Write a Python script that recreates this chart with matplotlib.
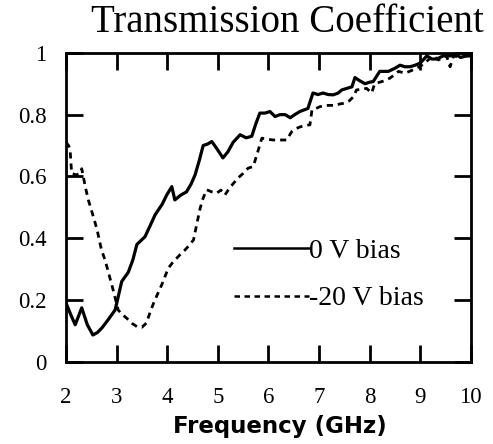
import numpy as np
import matplotlib
matplotlib.use('Agg')
import matplotlib.pyplot as plt
from matplotlib import rc

# values
freq_0v = [2.0, 2.1, 2.18, 2.31, 2.42, 2.53, 2.62, 2.71, 2.83, 2.97,
           3.1, 3.23, 3.32, 3.4, 3.56, 3.66, 3.76, 3.9, 3.99, 4.09,
           4.15, 4.27, 4.38, 4.47, 4.55, 4.63, 4.71, 4.8, 4.88, 4.98,
           5.1, 5.2, 5.3, 5.44, 5.56, 5.67, 5.75, 5.83, 5.93, 6.03,
           6.13, 6.23, 6.33, 6.43, 6.52, 6.62, 6.78, 6.88, 6.98, 7.08,
           7.18, 7.28, 7.38, 7.45, 7.55, 7.65, 7.71, 7.8, 7.91, 8.0,
           8.07, 8.2, 8.28, 8.37, 8.5, 8.6, 8.7, 8.8, 8.9, 9.0,
           9.13, 9.23, 9.33, 9.45, 9.59, 9.7, 9.8, 9.9, 10.0]
trans_0v = [0.19, 0.15, 0.12, 0.175, 0.12, 0.087, 0.095, 0.11, 0.136, 0.168,
            0.26, 0.29, 0.33, 0.38, 0.405, 0.44, 0.476, 0.51, 0.54, 0.567,
            0.524, 0.54, 0.55, 0.575, 0.605, 0.65, 0.70, 0.705, 0.713, 0.69,
            0.66, 0.68, 0.71, 0.735, 0.725, 0.73, 0.77, 0.805, 0.805, 0.81,
            0.794, 0.80, 0.80, 0.79, 0.80, 0.81, 0.82, 0.87, 0.865, 0.87,
            0.865, 0.864, 0.87, 0.88, 0.885, 0.89, 0.92, 0.91, 0.90, 0.905,
            0.907, 0.94, 0.94, 0.94, 0.95, 0.96, 0.955, 0.955, 0.96, 0.967,
            0.99, 0.98, 0.98, 0.99, 0.99, 0.995, 0.985, 0.99, 0.99]

freq_20v = [2.0, 2.05, 2.08, 2.11, 2.2, 2.28, 2.31, 2.38, 2.44, 2.51,
            2.61, 2.7, 2.77, 2.84, 2.93, 3.03, 3.1, 3.2, 3.3, 3.4,
            3.5, 3.59, 3.66, 3.73, 3.81, 3.89, 4.02, 4.1, 4.19, 4.27,
            4.35, 4.45, 4.52, 4.58, 4.65, 4.71, 4.78, 4.88, 4.98, 5.06,
            5.14, 5.22, 5.31, 5.4, 5.5, 5.6, 5.7, 5.8, 5.87, 5.98,
            6.1, 6.2, 6.36, 6.46, 6.55, 6.62, 6.72, 6.82, 6.86, 6.94,
            7.02, 7.15, 7.32, 7.42, 7.51, 7.6, 7.68, 7.74, 7.84, 7.94,
            8.04, 8.1, 8.2, 8.3, 8.4, 8.5, 8.57, 8.7, 8.86, 8.95,
            9.03, 9.16, 9.26, 9.36, 9.45, 9.52, 9.59, 9.66, 9.8, 9.9, 10.0]
trans_20v = [0.71, 0.70, 0.686, 0.61, 0.605, 0.61, 0.625, 0.567, 0.524, 0.486,
             0.43, 0.362, 0.33, 0.288, 0.233, 0.168, 0.155, 0.141, 0.125, 0.114,
             0.112, 0.126, 0.16, 0.19, 0.22, 0.249, 0.303, 0.32, 0.336, 0.35,
             0.362, 0.38, 0.395, 0.443, 0.497, 0.53, 0.557, 0.55, 0.546, 0.556,
             0.54, 0.56, 0.578, 0.595, 0.61, 0.627, 0.632, 0.686, 0.724, 0.72,
             0.718, 0.718, 0.718, 0.745, 0.755, 0.76, 0.765, 0.767, 0.815, 0.82,
             0.826, 0.83, 0.83, 0.835, 0.837, 0.845, 0.858, 0.88, 0.882, 0.885,
             0.87, 0.90, 0.905, 0.91, 0.918, 0.93, 0.94, 0.934, 0.945, 0.952,
             0.96, 0.977, 0.99, 0.977, 0.985, 0.99, 0.955, 0.99, 0.985, 0.99, 0.99]

x_ticks = [2, 3, 4, 5, 6, 7, 8, 9, 10]
x_ticklabels = ['2', '3', '4', '5', '6', '7', '8', '9', '10']
y_ticks = [0, 0.2, 0.4, 0.6, 0.8, 1]
y_ticklabels = ['0', '0.2', '0.4', '0.6', '0.8', '1']

rc('font', **{'family': 'serif', 'serif': ['Liberation Serif']})

fig = plt.figure(figsize=(4.93, 4.44), dpi=100)
ax = fig.add_axes([0.134, 0.185, 0.821, 0.696])

ax.plot(freq_0v, trans_0v, color='black', linestyle='-', linewidth=2.3,
        label='0 V bias')
ax.plot(freq_20v, trans_20v, color='black', linestyle=(0, (2.2, 1.8)),
        linewidth=2.0, label='-20 V bias')

ax.set_xlim(2, 10)
ax.set_ylim(0, 1)
ax.set_xticks(x_ticks)
ax.set_xticklabels(x_ticklabels)
ax.set_yticks(y_ticks)
ax.set_yticklabels(y_ticklabels)
ax.tick_params(direction='in', top=True, right=True, length=12, width=2,
               labelsize=16.5)
ax.tick_params(axis='x', pad=18)
ax.tick_params(axis='y', pad=14)
for sp in ax.spines.values():
    sp.set_linewidth(2)

leg = ax.legend(loc='upper left', bbox_to_anchor=(0.415, 0.40), frameon=False,
                fontsize=20, handlelength=2.7, handletextpad=0.0,
                labelspacing=0.8, borderpad=0, borderaxespad=0)
for ln in leg.get_lines():
    ln.set_linewidth(1.8)

fig.text(0.582, 0.99, 'Transmission Coefficient', ha='center', va='top',
         fontsize=28)
ax.set_xlabel('Frequency (GHz)', family='DejaVu Sans', fontweight='bold',
              fontsize=16.5, labelpad=5)
ax.xaxis.label.set_x(0.528)

plt.savefig('out.png', dpi=100)
